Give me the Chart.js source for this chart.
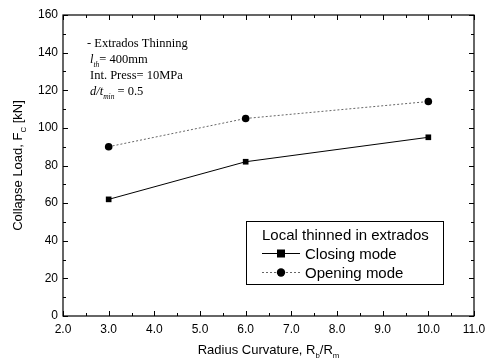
<!DOCTYPE html>
<html>
<head>
<meta charset="utf-8">
<script src="https://cdn.jsdelivr.net/npm/chart.js@4"></script>
<style>
  html, body { margin: 0; padding: 0; background: #fff; }
  #wrap { width: 495px; height: 362px; }
</style>
</head>
<body>
<div id="wrap"><canvas id="collapseChart" width="495" height="362"></canvas></div>
<script>
// data
const radiusRatio = [3.0, 6.0, 10.0];
const closingLoad = [62, 82, 95];
const openingLoad = [90, 105, 114];
const xTicks = [2, 3, 4, 5, 6, 7, 8, 9, 10, 11];
const yTicks = [0, 20, 40, 60, 80, 100, 120, 140, 160];
const legendTitle = 'Local thinned in extrados';
const seriesNames = ['Closing mode', 'Opening mode'];

const sans = '"Liberation Sans", Arial, sans-serif';
const serif = '"Liberation Serif", "Times New Roman", serif';

// draws text pieces with subscripts: [[text, isSub, italic]]
function drawRich(ctx, parts, x, y, size, family, align) {
    let total = 0;
    parts.forEach(p => {
        ctx.font = (p[2] ? 'italic ' : '') + (p[1] ? size * 0.6 : size) + 'px ' + family;
        total += ctx.measureText(p[0]).width;
    });
    let cx = align === 'center' ? x - total / 2 : x;
    parts.forEach(p => {
        ctx.font = (p[2] ? 'italic ' : '') + (p[1] ? size * 0.6 : size) + 'px ' + family;
        ctx.fillText(p[0], cx, p[1] ? y + size * 0.3 : y);
        cx += ctx.measureText(p[0]).width;
    });
}

const decorPlugin = {
    id: 'decor',
    afterDraw(chart) {
        const ctx = chart.ctx;
        const a = chart.chartArea;
        const xs = chart.scales.x, ys = chart.scales.y;
        ctx.save();
        ctx.strokeStyle = '#000';
        ctx.lineWidth = 1.2;
        ctx.strokeRect(a.left, a.top, a.right - a.left, a.bottom - a.top);

        // inward ticks on all four sides
        ctx.lineWidth = 1;
        ctx.beginPath();
        for (let v = 2; v <= 11.001; v += 0.5) {
            const px = Math.round(xs.getPixelForValue(v)) + 0.5;
            const len = Math.abs(v - Math.round(v)) < 0.01 ? 5 : 3;
            ctx.moveTo(px, a.bottom); ctx.lineTo(px, a.bottom - len);
            ctx.moveTo(px, a.top); ctx.lineTo(px, a.top + len);
        }
        for (let v = 0; v <= 160; v += 10) {
            const py = Math.round(ys.getPixelForValue(v)) + 0.5;
            const len = v % 20 === 0 ? 5 : 3;
            ctx.moveTo(a.left, py); ctx.lineTo(a.left + len, py);
            ctx.moveTo(a.right, py); ctx.lineTo(a.right - len, py);
        }
        ctx.stroke();

        // axis titles
        ctx.fillStyle = '#000';
        ctx.textBaseline = 'alphabetic';
        drawRich(ctx, [['Radius Curvature, R', 0], ['b', 1], ['/R', 0], ['m', 1]],
            (a.left + a.right) / 2, 354, 13, sans, 'center');
        ctx.save();
        ctx.translate(22, (a.top + a.bottom) / 2);
        ctx.rotate(-Math.PI / 2);
        drawRich(ctx, [['Collapse Load, F', 0], ['C', 1], [' [kN]', 0]], 0, 0, 13, sans, 'center');
        ctx.restore();

        // annotation text
        drawRich(ctx, [['- Extrados Thinning', 0]], 87, 47, 12.5, serif, 'left');
        drawRich(ctx, [['l', 0, true], ['th', 1, true], ['= 400mm', 0]], 90, 63, 12.5, serif, 'left');
        drawRich(ctx, [['Int. Press= 10MPa', 0]], 90, 79, 12.5, serif, 'left');
        drawRich(ctx, [['d/t', 0, true], ['min', 1, true], [' = 0.5', 0]], 90, 95, 12.5, serif, 'left');

        // legend box
        const bx = 246, by = 221, bw = 197, bh = 63;
        ctx.lineWidth = 1;
        ctx.strokeRect(bx + 0.5, by + 0.5, bw, bh);
        ctx.font = '15px ' + sans;
        ctx.fillText(legendTitle, bx + 16, by + 19);
        chart.data.datasets.forEach((ds, i) => {
            const my = by + 32 + i * 19;
            ctx.strokeStyle = ds.borderColor;
            ctx.setLineDash(ds.borderDash || []);
            ctx.beginPath();
            ctx.moveTo(bx + 16, my + 0.5); ctx.lineTo(bx + 54, my + 0.5);
            ctx.stroke();
            ctx.setLineDash([]);
            ctx.fillStyle = '#000';
            if (ds.pointStyle === 'rect') {
                ctx.fillRect(bx + 31, my - 3.5, 8, 8);
            } else {
                ctx.beginPath();
                ctx.arc(bx + 35, my + 0.5, 4.2, 0, Math.PI * 2);
                ctx.fill();
            }
            ctx.font = '15px ' + sans;
            ctx.fillText(seriesNames[i], bx + 59, my + 5.5);
        });
        ctx.restore();
    }
};

const ctx = document.getElementById('collapseChart').getContext('2d');
new Chart(ctx, {
    type: 'line',
    data: {
        datasets: [{
            label: seriesNames[0],
            data: radiusRatio.map((x, i) => ({ x: x, y: closingLoad[i] })),
            borderColor: '#000',
            backgroundColor: '#000',
            borderWidth: 1,
            tension: 0,
            pointStyle: 'rect',
            pointRadius: 4,
            pointBorderWidth: 0
        }, {
            label: seriesNames[1],
            data: radiusRatio.map((x, i) => ({ x: x, y: openingLoad[i] })),
            borderColor: '#666',
            backgroundColor: '#000',
            borderWidth: 1,
            borderDash: [2, 2],
            tension: 0,
            pointStyle: 'circle',
            pointRadius: 3.8,
            pointBorderWidth: 0
        }]
    },
    options: {
        responsive: false,
        animation: false,
        layout: { padding: { top: 15, right: 21, left: 0, bottom: 0 } },
        plugins: { legend: { display: false }, tooltip: { enabled: false } },
        scales: {
            x: {
                type: 'linear', min: 2, max: 11,
                afterBuildTicks: s => { s.ticks = xTicks.map(v => ({ value: v })); },
                afterFit: s => { s.height = 46; },
                grid: { display: false, drawTicks: false },
                border: { display: false },
                ticks: {
                    color: '#000', padding: 6, maxRotation: 0,
                    font: { family: sans, size: 12 },
                    callback: v => v.toFixed(1)
                }
            },
            y: {
                min: 0, max: 160,
                afterBuildTicks: s => { s.ticks = yTicks.map(v => ({ value: v })); },
                afterFit: s => { s.width = 63; },
                grid: { display: false, drawTicks: false },
                border: { display: false },
                ticks: {
                    color: '#000', padding: 5,
                    font: { family: sans, size: 12 }
                }
            }
        }
    },
    plugins: [decorPlugin]
});
</script>
</body>
</html>
